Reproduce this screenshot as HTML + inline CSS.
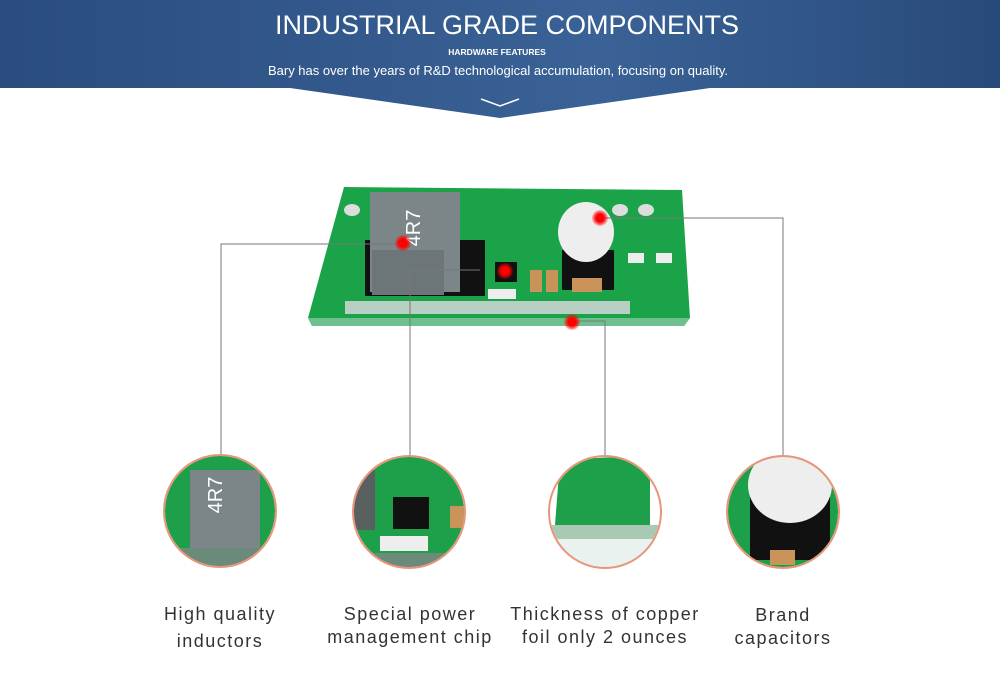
<!DOCTYPE html>
<html><head><meta charset="utf-8"><style>
body{margin:0;width:1000px;height:698px;background:#fff;overflow:hidden;font-family:"Liberation Sans",sans-serif}
.lbl{position:absolute;text-align:center;font-size:18px;color:#333;letter-spacing:1.5px;line-height:23px}
</style></head><body>
<svg width="1000" height="698" style="position:absolute;left:0;top:0">
<defs>
<linearGradient id="hg" x1="0" x2="1" y1="0" y2="0"><stop offset="0" stop-color="#2a4c7e"/><stop offset="0.6" stop-color="#3a6296"/><stop offset="1" stop-color="#284a7a"/></linearGradient>
<radialGradient id="dot"><stop offset="0.5" stop-color="#f00"/><stop offset="1" stop-color="#f00" stop-opacity="0.2"/></radialGradient>
<clipPath id="c1"><circle cx="220" cy="511" r="55"/></clipPath>
<clipPath id="c2"><circle cx="409" cy="512" r="55"/></clipPath>
<clipPath id="c3"><circle cx="605" cy="512" r="55"/></clipPath>
<clipPath id="c4"><circle cx="783" cy="512" r="55"/></clipPath>
</defs>
<polygon points="0,0 1000,0 1000,88 710,88 500,118 290,88 0,88" fill="url(#hg)"/>
<polyline points="481,99 500,106 519,99" fill="none" stroke="#fff" stroke-width="1.5"/>
<text x="507" y="34" fill="#fff" font-size="27" text-anchor="middle" font-weight="normal">INDUSTRIAL GRADE COMPONENTS</text>
<text x="497" y="55" fill="#fff" font-size="8.5" font-weight="bold" text-anchor="middle">HARDWARE FEATURES</text>
<text x="498" y="75" fill="#fff" font-size="13" text-anchor="middle">Bary has over the years of R&amp;D technological accumulation, focusing on quality.</text>
<!-- board -->
<polygon points="344,187 682,190 690,318 684,326 312,326 308,318" fill="#1ba34a"/>
<polygon points="308,318 690,318 684,326 312,326" fill="#6fc08f"/>
<rect x="345" y="301" width="285" height="13" fill="#b8cfc4"/>
<ellipse cx="352" cy="210" rx="8" ry="6" fill="#ddd"/>
<ellipse cx="620" cy="210" rx="8" ry="6" fill="#ddd"/>
<ellipse cx="646" cy="210" rx="8" ry="6" fill="#ddd"/>
<rect x="365" y="240" width="120" height="56" fill="#111"/>
<rect x="370" y="192" width="90" height="100" fill="#7c8588"/>
<rect x="372" y="250" width="72" height="45" fill="#6c7578"/>
<text x="420" y="228" fill="#fff" font-size="20" transform="rotate(-90 420 228)" text-anchor="middle">4R7</text>
<rect x="495" y="262" width="22" height="20" fill="#111"/>
<rect x="488" y="289" width="28" height="10" fill="#eee"/>
<rect x="530" y="270" width="12" height="22" fill="#c9935a"/>
<rect x="546" y="270" width="12" height="22" fill="#c9935a"/>
<rect x="562" y="250" width="52" height="40" fill="#111"/>
<ellipse cx="586" cy="232" rx="28" ry="30" fill="#eee"/>
<rect x="572" y="278" width="30" height="14" fill="#c9935a"/>
<rect x="628" y="253" width="16" height="10" fill="#eee"/><rect x="656" y="253" width="16" height="10" fill="#eee"/>
<!-- connectors -->
<g stroke="#777" stroke-width="1" fill="none">
<polyline points="403,244 221,244 221,455"/>
<polyline points="480,270 410,270 410,456"/>
<polyline points="572,321 605,321 605,460"/>
<polyline points="600,218 783,218 783,456"/>
</g>
<g fill="url(#dot)"><circle cx="403" cy="243" r="8"/><circle cx="505" cy="271" r="8"/><circle cx="572" cy="322" r="8"/><circle cx="600" cy="218" r="8"/></g>
<!-- circles -->
<g clip-path="url(#c1)"><rect x="160" y="450" width="120" height="130" fill="#1ea04b"/><rect x="190" y="470" width="70" height="80" fill="#7c8588"/><rect x="160" y="548" width="120" height="25" fill="#6c8a7a"/><text x="222" y="495" fill="#fff" font-size="20" transform="rotate(-90 222 495)" text-anchor="middle">4R7</text></g>
<g clip-path="url(#c2)"><rect x="350" y="450" width="120" height="130" fill="#1ea04b"/><rect x="393" y="497" width="36" height="32" fill="#111"/><rect x="380" y="536" width="48" height="15" fill="#eee"/><rect x="450" y="506" width="18" height="22" fill="#c9935a"/><rect x="350" y="470" width="25" height="60" fill="#5a6060"/><rect x="350" y="553" width="120" height="25" fill="#6c8a7a"/></g>
<g clip-path="url(#c3)"><rect x="545" y="450" width="120" height="130" fill="#fff"/><polygon points="560,460 650,455 650,525 555,525" fill="#1ea04b"/><rect x="545" y="525" width="120" height="14" fill="#a9c9b5"/><rect x="545" y="539" width="120" height="40" fill="#e9f2ee"/></g>
<g clip-path="url(#c4)"><rect x="725" y="450" width="120" height="130" fill="#1ea04b"/><rect x="750" y="490" width="80" height="70" fill="#111"/><ellipse cx="790" cy="485" rx="42" ry="38" fill="#eee"/><rect x="770" y="550" width="25" height="15" fill="#c9935a"/></g>
<g fill="none" stroke="#e8967b" stroke-width="2"><circle cx="220" cy="511" r="56"/><circle cx="409" cy="512" r="56"/><circle cx="605" cy="512" r="56"/><circle cx="783" cy="512" r="56"/></g>
</svg>
<div class="lbl" style="left:140px;top:603px;width:160px">High quality<br><span style="position:relative;top:4px">inductors</span></div>
<div class="lbl" style="left:310px;top:603px;width:200px">Special power<br>management chip</div>
<div class="lbl" style="left:495px;top:603px;width:220px">Thickness of copper<br>foil only 2 ounces</div>
<div class="lbl" style="left:703px;top:604px;width:160px">Brand<br>capacitors</div>
</body></html>
